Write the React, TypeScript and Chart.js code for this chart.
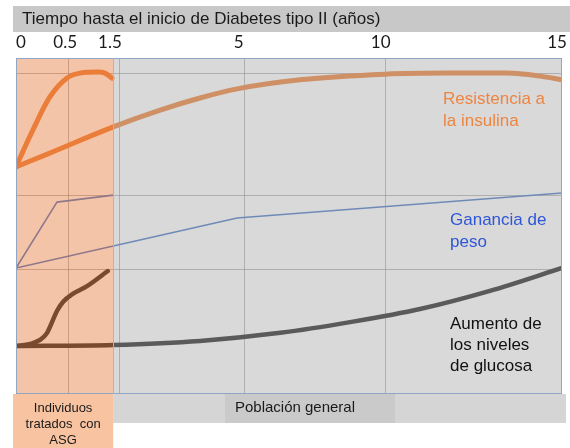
import React, { useEffect, useRef } from "react";
import { Chart, registerables } from "chart.js";

Chart.register(...registerables);

// ---- Text ----
const TITLE = "Tiempo hasta el inicio de Diabetes tipo II (años)";
const treatedLines = ["Individuos", "tratados  con", "ASG"];
const generalLabel = "Población general";
const resLabel = ["Resistencia a", "la insulina"];
const weightLabel = ["Ganancia de", "peso"];
const glucoseLabel = ["Aumento de", "los niveles", "de glucosa"];

// ---- Axis (schematic timeline, position units 0..100) ----
const tickLabels = ["0", "0.5", "1.5", "5", "10", "15"];
const tickLabelPos = [0.9, 9.0, 17.2, 40.8, 66.8, 99.1];
const gridPosX = [9.7, 19.0, 41.8, 67.6];
const gridPosY = [37.2, 59.2, 95.5];
const treatedEnd = 17.8;

// ---- Series: Resistencia a la insulina ----
const resGenX = [0, 6.2, 17.8, 26.4, 33.7, 40.5, 52.0, 67.6, 79.5, 89.9, 96.0, 100];
const resGenY = [67.6, 71.7, 79.5, 84.5, 88.1, 90.8, 93.5, 95.2, 95.5, 95.5, 94.6, 93.5];
const resTrtX = [0, 3.1, 6.2, 9.3, 11.7, 15.0, 16.3, 17.6];
const resTrtY = [67.6, 78.6, 88.4, 94.0, 95.5, 95.8, 95.5, 94.0];

// ---- Series: Ganancia de peso ----
const wGenX = [0, 40.5, 100];
const wGenY = [37.5, 52.4, 59.8];
const wTrtX = [0, 7.5, 17.8];
const wTrtY = [37.5, 57.1, 59.2];

// ---- Series: Aumento de glucosa ----
const gGenX = [0, 17.8, 33.7, 48.4, 61.2, 74.0, 86.8, 100];
const gGenY = [14.3, 14.6, 15.8, 18.2, 21.4, 25.3, 30.7, 37.5];
const gTrtX = [0, 2.6, 4.4, 5.7, 6.6, 7.5, 8.6, 10.4, 13.0, 16.8];
const gTrtY = [14.3, 14.9, 16.1, 18.2, 21.4, 24.7, 27.4, 29.8, 32.1, 36.6];

const ORANGE = "#ED7D31";
const BLUE = "#4472C4";
const BLACK = "#1e1e1e";
const SANS = "'Liberation Sans', Arial, sans-serif";

const pts = (xs: number[], ys: number[]) => xs.map((x, i) => ({ x, y: ys[i] }));

const decor = {
  id: "decor",
  beforeDraw(chart: any) {
    const ctx = chart.ctx;
    const { left, bottom } = chart.chartArea;
    const split = chart.scales.x.getPixelForValue(treatedEnd);
    ctx.save();
    // title bar
    ctx.fillStyle = "#C8C8C8";
    ctx.fillRect(left - 3, 6, chart.width - (left - 3), 26);
    ctx.fillStyle = "#1a1a1a";
    ctx.font = "17px " + SANS;
    ctx.textBaseline = "middle";
    ctx.textAlign = "left";
    ctx.fillText(TITLE, left + 6, 19.5);
    // bottom boxes
    ctx.fillStyle = "#F8C3A1";
    ctx.fillRect(left - 3, bottom, split - left + 3, chart.height - bottom);
    ctx.fillStyle = "#D5D5D5";
    ctx.fillRect(split, bottom, chart.width - 4 - split, 29);
    ctx.fillStyle = "#CACACA";
    ctx.fillRect(225, bottom, 170, 29);
    ctx.fillStyle = "#1a1a1a";
    ctx.textAlign = "center";
    ctx.font = "13px " + SANS;
    treatedLines.forEach((t, i) => ctx.fillText(t, (left - 3 + split) / 2, bottom + 14 + i * 16));
    ctx.font = "15px " + SANS;
    ctx.fillText(generalLabel, 295, bottom + 14);
    ctx.restore();
  },
  afterDatasetsDraw(chart: any) {
    const ctx = chart.ctx;
    const { left, right, top, bottom } = chart.chartArea;
    const split = chart.scales.x.getPixelForValue(treatedEnd);
    ctx.save();
    ctx.fillStyle = "rgba(232,126,67,0.46)";
    ctx.fillRect(left, top, split - left, bottom - top);
    ctx.fillStyle = "rgba(168,168,168,0.44)";
    ctx.fillRect(split, top, right - split, bottom - top);
    ctx.strokeStyle = "#8FA6C4";
    ctx.lineWidth = 1;
    ctx.strokeRect(left + 0.5, top + 0.5, right - left - 1, bottom - top - 1);
    ctx.strokeStyle = "#9DB8D8";
    ctx.beginPath();
    ctx.moveTo(Math.round(split) + 0.5, top);
    ctx.lineTo(Math.round(split) + 0.5, bottom);
    ctx.stroke();
    ctx.restore();
  },
  afterDraw(chart: any) {
    const ctx = chart.ctx;
    ctx.save();
    ctx.textAlign = "left";
    ctx.textBaseline = "middle";
    ctx.font = "17px " + SANS;
    ctx.fillStyle = "#EE8540";
    resLabel.forEach((t, i) => ctx.fillText(t, 443, 99 + i * 22));
    ctx.fillStyle = "#2F56D6";
    weightLabel.forEach((t, i) => ctx.fillText(t, 450, 220 + i * 22));
    ctx.fillStyle = "#111";
    glucoseLabel.forEach((t, i) => ctx.fillText(t, 450, 324 + i * 21));
    ctx.restore();
  },
};

export default function App() {
  const ref = useRef<HTMLCanvasElement | null>(null);
  useEffect(() => {
    if (!ref.current) return;
    const line = (data: any, color: string, width: number, smooth: boolean) => ({
      data,
      borderColor: color,
      backgroundColor: color,
      borderWidth: width,
      pointRadius: 0,
      fill: false,
      cubicInterpolationMode: smooth ? "monotone" : "default",
      tension: 0,
      borderCapStyle: "round",
      borderJoinStyle: "round",
      xAxisID: "x",
      yAxisID: "y",
    });
    const chart = new Chart(ref.current, {
      type: "line",
      data: {
        datasets: [
          line(pts(resGenX, resGenY), ORANGE, 5, true),
          line(pts(resTrtX, resTrtY), ORANGE, 5, true),
          line(pts(wGenX, wGenY), BLUE, 1.6, false),
          line(pts(wTrtX, wTrtY), BLUE, 1.6, false),
          line(pts(gGenX, gGenY), BLACK, 4.5, true),
          line(pts(gTrtX, gTrtY), BLACK, 4.5, true),
        ] as any,
      },
      options: {
        responsive: false,
        animation: false,
        events: [],
        layout: { padding: { left: 16, right: 8, top: 28, bottom: 54 } },
        plugins: { legend: { display: false }, tooltip: { enabled: false }, title: { display: false } },
        scales: {
          x: {
            type: "linear",
            position: "top",
            min: 0,
            max: 100,
            grid: { display: false },
            border: { display: false },
            afterBuildTicks: (s: any) => {
              s.ticks = tickLabelPos.map((v) => ({ value: v }));
            },
            afterFit: (s: any) => {
              s.height = 30;
              s.paddingLeft = 0;
              s.paddingRight = 0;
            },
            ticks: {
              callback: (_v: any, i: number) => tickLabels[i],
              font: { family: "Lato", size: 17 },
              color: "#1a1a1a",
              padding: -3,
              maxRotation: 0,
              autoSkip: false,
            },
          },
          x2: {
            type: "linear",
            position: "bottom",
            min: 0,
            max: 100,
            ticks: { display: false },
            grid: { color: "rgba(110,110,110,0.5)", drawTicks: false, lineWidth: 1 },
            border: { display: false },
            afterBuildTicks: (s: any) => {
              s.ticks = gridPosX.map((v) => ({ value: v }));
            },
            afterFit: (s: any) => {
              s.height = 0;
              s.paddingLeft = 0;
              s.paddingRight = 0;
            },
          },
          y: {
            type: "linear",
            min: 0,
            max: 100,
            ticks: { display: false },
            grid: { color: "rgba(110,110,110,0.5)", drawTicks: false, lineWidth: 1 },
            border: { display: false },
            afterBuildTicks: (s: any) => {
              s.ticks = gridPosY.map((v) => ({ value: v }));
            },
            afterFit: (s: any) => {
              s.width = 0;
            },
          },
        },
      } as any,
      plugins: [decor],
    });
    return () => chart.destroy();
  }, []);
  return (
    <div style={{ position: "fixed", left: 0, top: 0, width: 570, height: 448, background: "#fff" }}>
      <canvas ref={ref} width={570} height={448} style={{ display: "block" }} />
    </div>
  );
}
